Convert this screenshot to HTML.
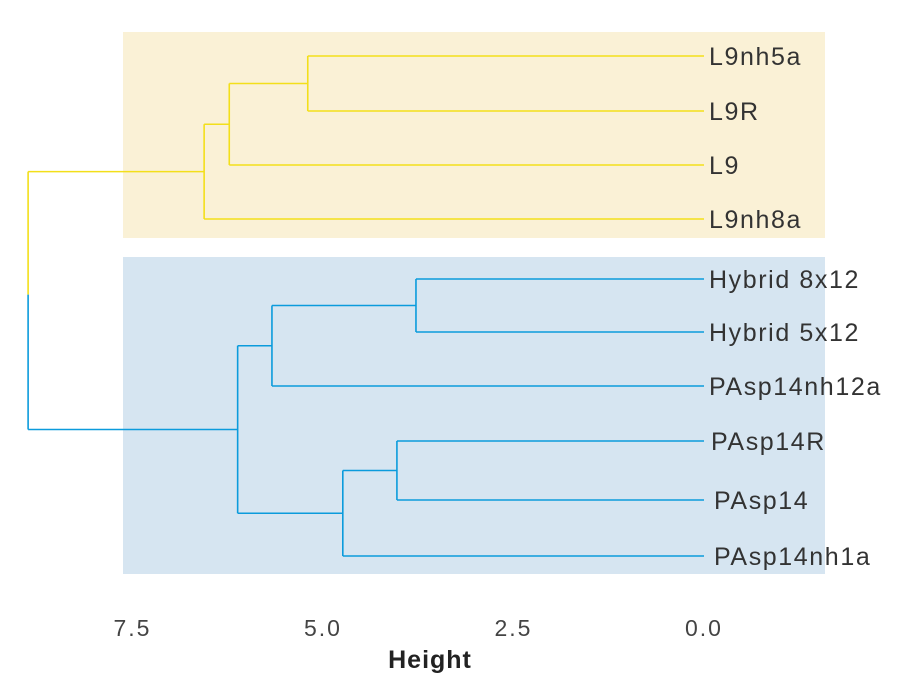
<!DOCTYPE html>
<html><head><meta charset="utf-8"><style>
html,body{margin:0;padding:0;background:#fff;}
svg{display:block;font-family:"Liberation Sans",sans-serif;}
</style></head><body>
<svg id="chart" width="899" height="690">
<rect x="123" y="32" width="702" height="206" fill="#FAF1D6"/>
<rect x="123" y="257" width="702" height="317" fill="#D6E5F1"/>
<g id="links"></g>
<g id="labels"></g>
<g id="ticks"></g>
<text x="430" y="668" text-anchor="middle" font-size="25" font-weight="bold" letter-spacing="1" fill="#222">Height</text>
</svg>
<script>
const leafNames = ["L9nh5a","L9R","L9","L9nh8a","Hybrid 8x12","Hybrid 5x12","PAsp14nh12a","PAsp14R","PAsp14","PAsp14nh1a"];
const leafY = [56,111,165,219,279,332,386,441,500,556];
const mergeA = [-1, 1, 2, -5, 4, -8, 6, 5, 3];
const mergeB = [-2, -3, -4, -6, -7, -9, -10, 7, 8];
const mergeH = [5.20, 6.23, 6.56, 3.78, 5.67, 4.03, 4.74, 6.12, 8.87];
const mergeColor = ["y","y","y","b","b","b","b","b","root"];
const tickVals = [7.5, 5.0, 2.5, 0.0];
const tickLabels = ["7.5","5.0","2.5","0.0"];
const labelShift = [0,0,0,0,0,0,0,2,5,5];

const NS="http://www.w3.org/2000/svg";
const xScale = h => 704 - 76.2*h;
const COL = {y:"#F3DF1A", b:"#0B9BDC"};
const links=document.getElementById('links');
const pos=[];
function node(id){
  if(id<0) return {x:xScale(0), y:leafY[-id-1]};
  return pos[id-1];
}
function line(x1,y1,x2,y2,c,name){
  const l=document.createElementNS(NS,'line');
  l.setAttribute('x1',x1);l.setAttribute('y1',y1);l.setAttribute('x2',x2);l.setAttribute('y2',y2);
  l.setAttribute('stroke',c);l.setAttribute('stroke-width','1.6');
  
  
  links.appendChild(l);
}
for(let i=0;i<mergeH.length;i++){
  const a=node(mergeA[i]), b=node(mergeB[i]);
  const x=xScale(mergeH[i]);
  const my=(a.y+b.y)/2;
  pos.push({x:x,y:my});
  if(mergeColor[i]==="root"){
    line(x,a.y,a.x,a.y,COL.y,'link-root-top');
    line(x,b.y,b.x,b.y,COL.b,'link-root-bottom');
    line(x,a.y,x,my-6,COL.y,'link-root-vertical-top');
    line(x,my-6,x,b.y,COL.b,'link-root-vertical-bottom');
  } else {
    const c=COL[mergeColor[i]];
    line(x,a.y,a.x,a.y,c,'link-branch');
    line(x,b.y,b.x,b.y,c,'link-branch');
    line(x,a.y,x,b.y,c,'link-merge');
  }
}
const labels=document.getElementById('labels');
leafNames.forEach((n,i)=>{
  const t=document.createElementNS(NS,'text');
  t.setAttribute('x',709+labelShift[i]);t.setAttribute('y',leafY[i]+9);
  t.setAttribute('font-size','25');t.setAttribute('letter-spacing','1.6');t.setAttribute('fill','#333');
  t.textContent=n;
  
  
  labels.appendChild(t);
});
const ticks=document.getElementById('ticks');
tickVals.forEach((v,i)=>{
  const t=document.createElementNS(NS,'text');
  t.setAttribute('x',xScale(v));t.setAttribute('y',636);
  t.setAttribute('text-anchor','middle');
  t.setAttribute('font-size','23');t.setAttribute('letter-spacing','2');t.setAttribute('fill','#444');
  t.textContent=tickLabels[i];
  
  
  ticks.appendChild(t);
});
</script>
</body></html>
